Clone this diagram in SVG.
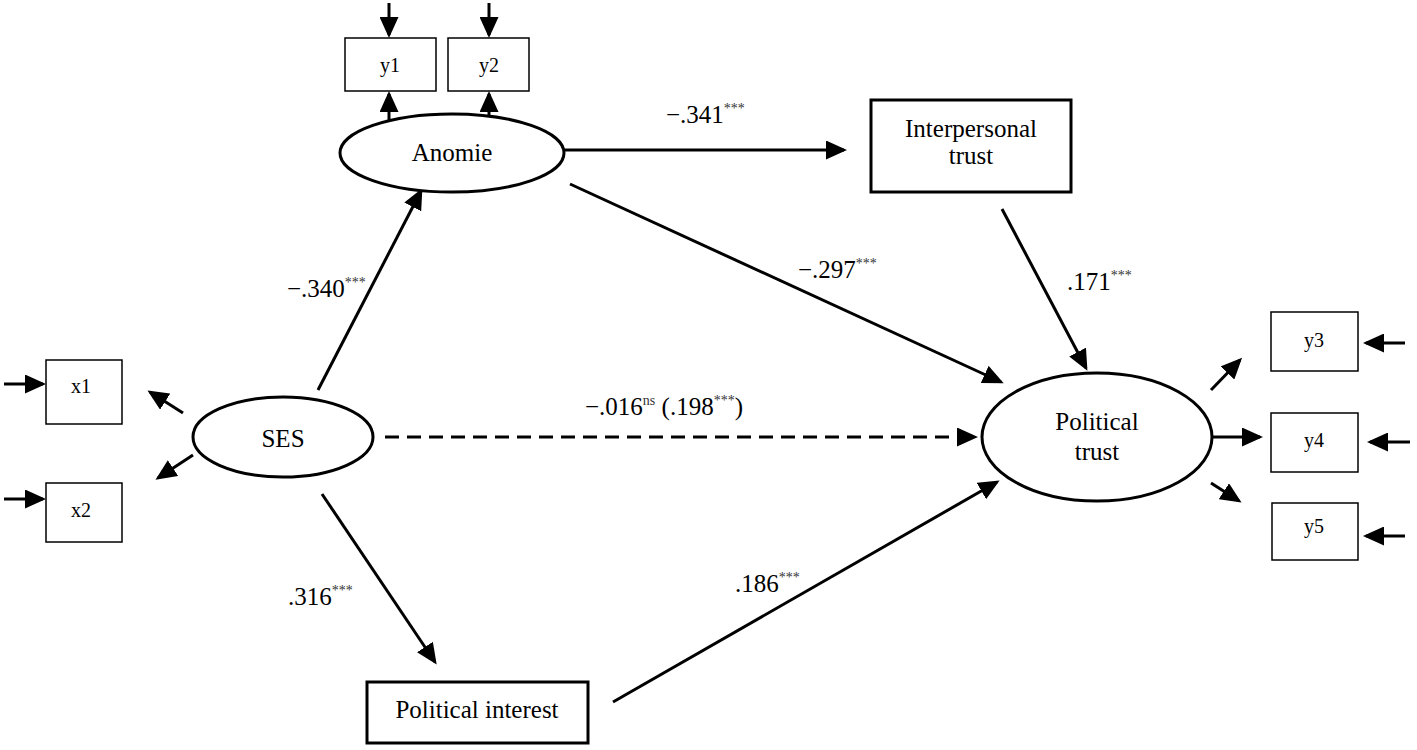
<svg xmlns="http://www.w3.org/2000/svg" width="1417" height="750" viewBox="0 0 1417 750">
<style>
text{font-family:'Liberation Serif','DejaVu Serif',serif;fill:#000}
.lbl{font-size:25px}
.sm{font-size:20px}
.c{text-anchor:middle}
.sup{font-size:14px;fill:#333}
.ind{fill:#fff;stroke:#000;stroke-width:1.5}
.box{fill:#fff;stroke:#000;stroke-width:3}
.lat{fill:#fff;stroke:#000;stroke-width:3}
.e{stroke:#000;stroke-width:3;fill:none}
.d{stroke-dasharray:14 8}
</style>
<defs>
<marker id="ah" markerUnits="userSpaceOnUse" markerWidth="21" markerHeight="19" refX="18" refY="9.5" orient="auto" viewBox="0 0 21 19">
<path d="M0,0 L21,9.5 L0,19 z" fill="#000"/>
</marker>
</defs>
<g id="connectors">
<line class="e" x1="389" y1="3" x2="389" y2="35" marker-end="url(#ah)"/>
<line class="e" x1="489" y1="3" x2="489" y2="35" marker-end="url(#ah)"/>
<line class="e" x1="389" y1="123" x2="389" y2="94" marker-end="url(#ah)"/>
<line class="e" x1="489" y1="118" x2="489" y2="94" marker-end="url(#ah)"/>
<line class="e" x1="565" y1="150" x2="844" y2="150" marker-end="url(#ah)"/>
<line class="e" x1="570" y1="184" x2="1001" y2="382" marker-end="url(#ah)"/>
<line class="e" x1="1002" y1="209" x2="1086" y2="368" marker-end="url(#ah)"/>
<line class="e" x1="318" y1="390" x2="421" y2="191" marker-end="url(#ah)"/>
<line class="e" x1="322" y1="494" x2="435" y2="662" marker-end="url(#ah)"/>
<line class="e" x1="613" y1="702" x2="997" y2="482" marker-end="url(#ah)"/>
<line class="e d" x1="385" y1="437" x2="975" y2="437" marker-end="url(#ah)"/>
<line class="e" x1="183" y1="413" x2="150" y2="392" marker-end="url(#ah)"/>
<line class="e" x1="193" y1="455" x2="158" y2="478" marker-end="url(#ah)"/>
<line class="e" x1="4" y1="384" x2="43" y2="384" marker-end="url(#ah)"/>
<line class="e" x1="4" y1="499" x2="43" y2="499" marker-end="url(#ah)"/>
<line class="e" x1="1211" y1="390" x2="1240" y2="360" marker-end="url(#ah)"/>
<line class="e" x1="1213" y1="437" x2="1260" y2="437" marker-end="url(#ah)"/>
<line class="e" x1="1211" y1="483" x2="1239" y2="501" marker-end="url(#ah)"/>
<line class="e" x1="1405" y1="343" x2="1366" y2="343" marker-end="url(#ah)"/>
<line class="e" x1="1410" y1="442" x2="1370" y2="442" marker-end="url(#ah)"/>
<line class="e" x1="1405" y1="536" x2="1366" y2="536" marker-end="url(#ah)"/>
</g>
<g id="labels" font-family="Liberation Serif, serif">
<text class="lbl" x="666" y="123">−.341<tspan class="sup" dy="-10">***</tspan></text>
<text class="lbl" x="798" y="278">−.297<tspan class="sup" dy="-10">***</tspan></text>
<text class="lbl" x="1067" y="290">.171<tspan class="sup" dy="-10">***</tspan></text>
<text class="lbl" x="287" y="297">−.340<tspan class="sup" dy="-10">***</tspan></text>
<text class="lbl" x="288" y="605">.316<tspan class="sup" dy="-10">***</tspan></text>
<text class="lbl" x="735" y="592">.186<tspan class="sup" dy="-10">***</tspan></text>
<text class="lbl" x="585" y="415">−.016<tspan class="sup" dy="-10">ns</tspan><tspan dy="10"> (.198</tspan><tspan class="sup" dy="-10">***</tspan><tspan dy="10">)</tspan></text>
</g>
<g id="y1"><rect class="ind" x="345" y="38" width="91" height="53"/><text class="sm c" x="390" y="72">y1</text></g>
<g id="y2"><rect class="ind" x="448" y="38" width="81" height="53"/><text class="sm c" x="489" y="72">y2</text></g>
<g id="anomie"><ellipse class="lat" cx="452" cy="153" rx="112" ry="39"/><text class="lbl c" x="452" y="161">Anomie</text></g>
<g id="interpersonal-trust"><rect class="box" x="871" y="100" width="200" height="92"/><text class="lbl c" x="971" y="137">Interpersonal</text><text class="lbl c" x="971" y="164">trust</text></g>
<g id="ses"><ellipse class="lat" cx="283" cy="437" rx="90" ry="40"/><text class="lbl c" x="283" y="447">SES</text></g>
<g id="x1"><rect class="ind" x="46" y="360" width="76" height="64"/><text class="sm c" x="81" y="393">x1</text></g>
<g id="x2"><rect class="ind" x="46" y="483" width="76" height="59"/><text class="sm c" x="81" y="517">x2</text></g>
<g id="political-interest"><rect class="box" x="367" y="682" width="221" height="61"/><text class="lbl c" x="477" y="718">Political interest</text></g>
<g id="political-trust"><ellipse class="lat" cx="1097" cy="437" rx="115" ry="64"/><text class="lbl c" x="1097" y="430">Political</text><text class="lbl c" x="1097" y="460">trust</text></g>
<g id="y3"><rect class="ind" x="1271" y="312" width="87" height="59"/><text class="sm c" x="1314" y="347">y3</text></g>
<g id="y4"><rect class="ind" x="1271" y="413" width="87" height="59"/><text class="sm c" x="1314" y="447">y4</text></g>
<g id="y5"><rect class="ind" x="1272" y="503" width="86" height="57"/><text class="sm c" x="1314" y="533">y5</text></g>
</svg>
